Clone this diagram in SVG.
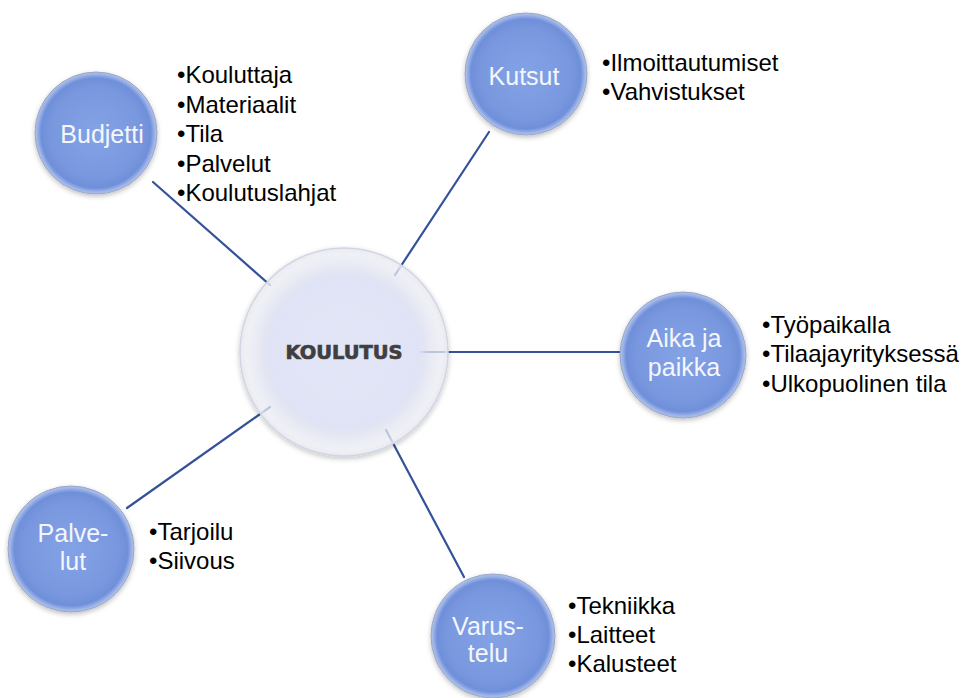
<svg xmlns="http://www.w3.org/2000/svg" width="963" height="698" viewBox="0 0 963 698">
<defs>
<radialGradient id="blue" cx="50%" cy="50%" r="50%">
<stop offset="0" stop-color="#84a3e6"/>
<stop offset="0.75" stop-color="#7897de"/>
<stop offset="0.9" stop-color="#6f8fd9"/>
<stop offset="0.96" stop-color="#9ab1e9"/>
<stop offset="1" stop-color="#b7c5e4"/>
</radialGradient>
<radialGradient id="pale" cx="50%" cy="50%" r="50%">
<stop offset="0" stop-color="#e2e6f7"/>
<stop offset="0.72" stop-color="#dfe3f5" stop-opacity="1"/>
<stop offset="0.8" stop-color="#e4e7f6" stop-opacity="0.75"/>
<stop offset="0.94" stop-color="#f3f4fb" stop-opacity="0.7"/>
<stop offset="1" stop-color="#e8eaf2" stop-opacity="0.9"/>
</radialGradient>
<filter id="sh" x="-20%" y="-20%" width="140%" height="140%">
<feDropShadow dx="0" dy="2" stdDeviation="2.5" flood-color="#000" flood-opacity="0.25"/>
</filter>
</defs>
<style>
.conn{stroke:#33529a;stroke-width:2.2;fill:none;stroke-linecap:round}
.node{fill:url(#blue);stroke:#97a6c4;stroke-width:1;filter:url(#sh)}
.lbl{font-family:"Liberation Sans",Arial,sans-serif;font-size:25px;fill:#f4f6fd;text-anchor:middle}
.li{font-family:"Liberation Sans",Arial,sans-serif;font-size:24px;fill:#000}
.main{font-family:"DejaVu Sans",sans-serif;font-weight:bold;font-size:19px;fill:#3f3f3f;stroke:#3f3f3f;stroke-width:0.7;text-anchor:middle}
</style>
<rect width="963" height="698" fill="#fff"/>
<g id="connectors">
<line class="conn" x1="153" y1="182" x2="270" y2="285"/>
<line class="conn" x1="489" y1="132" x2="395" y2="275"/>
<line class="conn" x1="620" y1="352" x2="420" y2="352"/>
<line class="conn" x1="127" y1="508" x2="270" y2="407"/>
<line class="conn" x1="464" y1="577" x2="386" y2="430"/>
</g>
<g id="koulutus">
<circle cx="344" cy="352" r="104" fill="url(#pale)" stroke="#d2d5e2" stroke-width="1.5" filter="url(#sh)"/>
<text class="main" x="344" y="359" textLength="117" lengthAdjust="spacingAndGlyphs">KOULUTUS</text>
</g>
<g id="budjetti">
<circle class="node" cx="96" cy="133" r="61"/>
<text class="lbl" x="102" y="143">Budjetti</text>
<text class="li" x="177" y="83">•Kouluttaja</text>
<text class="li" x="177" y="112.5">•Materiaalit</text>
<text class="li" x="177" y="142">•Tila</text>
<text class="li" x="177" y="171.5">•Palvelut</text>
<text class="li" x="177" y="201">•Koulutuslahjat</text>
</g>
<g id="kutsut">
<circle class="node" cx="526" cy="74" r="61"/>
<text class="lbl" x="524" y="85">Kutsut</text>
<text class="li" x="602" y="71">•Ilmoittautumiset</text>
<text class="li" x="602" y="100">•Vahvistukset</text>
</g>
<g id="aika">
<circle class="node" cx="683" cy="355" r="63"/>
<text class="lbl" x="684" y="347">Aika ja</text>
<text class="lbl" x="684" y="376">paikka</text>
<text class="li" x="762" y="333">•Työpaikalla</text>
<text class="li" x="762" y="362">•Tilaajayrityksessä</text>
<text class="li" x="762" y="392">•Ulkopuolinen tila</text>
</g>
<g id="palvelut">
<circle class="node" cx="71" cy="549" r="63"/>
<text class="lbl" x="73" y="542">Palve-</text>
<text class="lbl" x="73" y="570">lut</text>
<text class="li" x="149" y="540">•Tarjoilu</text>
<text class="li" x="149" y="569">•Siivous</text>
</g>
<g id="varustelu">
<circle class="node" cx="493" cy="636" r="62"/>
<text class="lbl" x="488" y="635">Varus-</text>
<text class="lbl" x="488" y="662">telu</text>
<text class="li" x="568" y="614">•Tekniikka</text>
<text class="li" x="568" y="643">•Laitteet</text>
<text class="li" x="568" y="672">•Kalusteet</text>
</g>
</svg>
